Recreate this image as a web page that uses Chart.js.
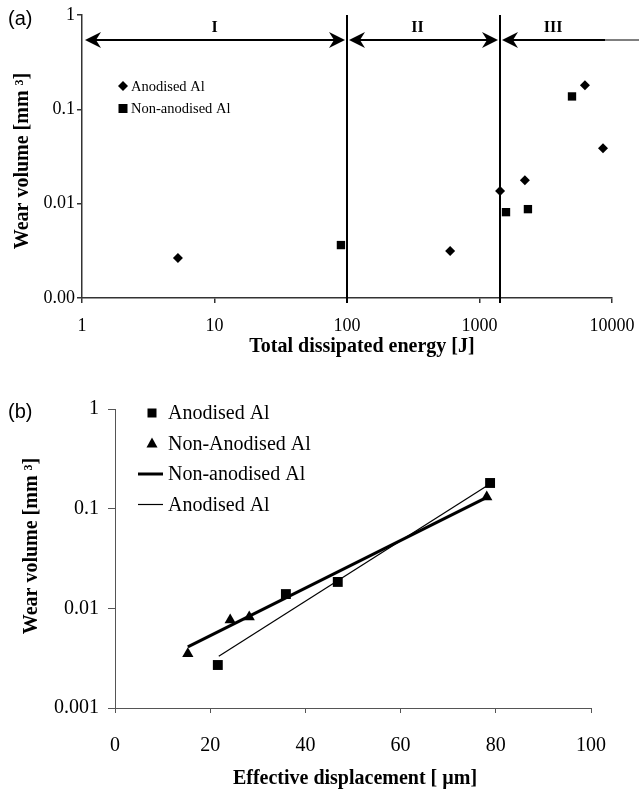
<!DOCTYPE html>
<html>
<head>
<meta charset="utf-8">
<script src="https://cdn.jsdelivr.net/npm/chart.js@4/dist/chart.umd.min.js"></script>
<style>
  body { margin: 0; background: #fff; width: 639px; height: 789px; position: relative; overflow: hidden; }
  canvas { position: absolute; left: 0; }
  #chartA { top: 0; }
  #chartB { top: 380px; }
  .tag { position: absolute; left: 8px; font: 20px "Liberation Sans", Arial, sans-serif; line-height: 20px; color: #000; }
</style>
</head>
<body>
<canvas id="chartA" width="639" height="380"></canvas>
<canvas id="chartB" width="639" height="409"></canvas>
<div class="tag" style="top:8px">(a)</div>
<div class="tag" style="top:401px">(b)</div>
<script>
// ---- (a) wear volume vs total dissipated energy ----
const energyAnod = [5.3, 600, 1430, 2200, 6250, 8550];
const volAnod    = [0.00265, 0.00314, 0.0136, 0.0177, 0.180, 0.0387];
const energyNon  = [90, 1585, 2320, 4990];
const volNon     = [0.00364, 0.00813, 0.00875, 0.137];
const regionEdges  = [1, 100, 1430, 10000];
const regionNames  = ['I', 'II', 'III'];
const regionLabelX = [10, 340, 3600];
const arrowLevel   = 0.543;
const xTicksA  = [1, 10, 100, 1000, 10000];
const yTicksA  = [0.001, 0.01, 0.1, 1];
const yLabelsA = ['0.00', '0.01', '0.1', '1'];

// ---- (b) wear volume vs effective displacement ----
const dispAnod  = [21.6, 35.9, 46.8, 78.8];
const volAnodB  = [0.0027, 0.0139, 0.0184, 0.181];
const dispNon   = [15.3, 24.2, 28.2, 78.1];
const volNonB   = [0.00350, 0.00765, 0.0082, 0.131];
const fitNonX   = [15.3, 78.1];
const fitNonY   = [0.0041, 0.130];
const fitAnodX  = [21.8, 79.0];
const fitAnodY  = [0.0033, 0.180];
const yTicksB   = [0.001, 0.01, 0.1, 1];
const yLabelsB  = ['0.001', '0.01', '0.1', '1'];

const serif = '"Liberation Serif", "Times New Roman", serif';
const pts = (xs, ys) => xs.map((v, i) => ({ x: v, y: ys[i] }));

// fixed axis box sizes, no extra label overhang padding
const fixBox = (w, h) => s => {
  if (w) s.width = w;
  if (h) s.height = h;
  s.paddingLeft = s.paddingRight = s.paddingTop = s.paddingBottom = 0;
};

function arrowHead(ctx, tx, ty, dir) {
  ctx.beginPath();
  ctx.moveTo(tx, ty);
  ctx.lineTo(tx - dir * 16, ty - 8);
  ctx.lineTo(tx - dir * 11, ty);
  ctx.lineTo(tx - dir * 16, ty + 8);
  ctx.closePath();
  ctx.fill();
}

function marker(ctx, style, x, y) {
  ctx.beginPath();
  if (style === 'rectRot') {
    ctx.moveTo(x, y - 5); ctx.lineTo(x + 5, y); ctx.lineTo(x, y + 5); ctx.lineTo(x - 5, y);
  } else if (style === 'triangle') {
    ctx.moveTo(x, y - 6); ctx.lineTo(x + 5.5, y + 4); ctx.lineTo(x - 5.5, y + 4);
  } else {
    ctx.rect(x - 4.5, y - 4.5, 9, 9);
  }
  ctx.closePath();
  ctx.fill();
}

// axis titles + legend drawn at fixed spots, texts from options / dataset labels
const decor = {
  id: 'decor',
  afterDraw(chart, args, o) {
    const ctx = chart.ctx;
    ctx.save();
    ctx.fillStyle = '#000';
    ctx.strokeStyle = '#000';
    ctx.font = 'bold 20px ' + serif;
    ctx.textAlign = 'center';
    ctx.textBaseline = 'alphabetic';
    ctx.fillText(o.xTitle, o.xTitleAt[0], o.xTitleAt[1]);
    ctx.save();
    ctx.translate(o.yTitleAt[0], o.yTitleAt[1]);
    ctx.rotate(-Math.PI / 2);
    ctx.fillText(o.yTitle, 0, 0);
    ctx.restore();

    ctx.font = o.legendFont + 'px ' + serif;
    ctx.textAlign = 'left';
    ctx.textBaseline = 'middle';
    o.legendItems.forEach((idx, row) => {
      const ds = chart.data.datasets[idx];
      const ly = o.legendAt[1] + row * o.legendGap;
      if (ds.showLine) {
        ctx.lineWidth = ds.borderWidth;
        ctx.beginPath();
        ctx.moveTo(o.legendAt[0] - 14, ly);
        ctx.lineTo(o.legendAt[0] + 11, ly);
        ctx.stroke();
      } else {
        marker(ctx, ds.pointStyle, o.legendAt[0], ly);
      }
      ctx.fillText(ds.label, o.legendAt[0] + o.textDx, ly + 1);
    });
    ctx.restore();
  }
};

const regions = {
  id: 'regions',
  afterDatasetsDraw(chart) {
    const { ctx, chartArea: a, scales: { x, y } } = chart;
    ctx.save();
    ctx.strokeStyle = '#000';
    ctx.fillStyle = '#000';
    ctx.lineWidth = 2;
    [regionEdges[1], regionEdges[2]].forEach(v => {
      const px = Math.round(x.getPixelForValue(v));
      ctx.beginPath(); ctx.moveTo(px, a.top); ctx.lineTo(px, a.bottom + 5); ctx.stroke();
    });
    const ay = Math.round(y.getPixelForValue(arrowLevel));
    const e = regionEdges.map(v => Math.round(x.getPixelForValue(v)));
    // I
    ctx.beginPath(); ctx.moveTo(e[0] + 8, ay); ctx.lineTo(e[1] - 8, ay); ctx.stroke();
    arrowHead(ctx, e[0] + 3, ay, -1); arrowHead(ctx, e[1] - 2, ay, 1);
    // II
    ctx.beginPath(); ctx.moveTo(e[1] + 8, ay); ctx.lineTo(e[2] - 8, ay); ctx.stroke();
    arrowHead(ctx, e[1] + 2, ay, -1); arrowHead(ctx, e[2] - 2, ay, 1);
    // III
    ctx.beginPath(); ctx.moveTo(e[2] + 8, ay); ctx.lineTo(e[3] - 7, ay); ctx.stroke();
    ctx.lineWidth = 1;
    ctx.beginPath(); ctx.moveTo(e[3] - 7, ay); ctx.lineTo(chart.width, ay); ctx.stroke();
    arrowHead(ctx, e[2] + 2, ay, -1);

    ctx.font = 'bold 16px ' + serif;
    ctx.textAlign = 'center';
    ctx.textBaseline = 'middle';
    regionNames.forEach((n, i) => ctx.fillText(n, x.getPixelForValue(regionLabelX[i]), ay - 12));
    ctx.restore();
  }
};

new Chart(document.getElementById('chartA'), {
  type: 'scatter',
  data: {
    datasets: [
      { label: 'Anodised Al', data: pts(energyAnod, volAnod), pointStyle: 'rectRot',
        pointRadius: 5, backgroundColor: '#000', borderWidth: 0 },
      { label: 'Non-anodised Al', data: pts(energyNon, volNon), pointStyle: 'rect',
        pointRadius: 5.9, backgroundColor: '#000', borderWidth: 0 }
    ]
  },
  options: {
    responsive: false,
    animation: false,
    events: [],
    layout: { padding: { top: 15, right: 27, left: 0, bottom: 0 } },
    plugins: {
      legend: { display: false },
      tooltip: { enabled: false },
      decor: {
        xTitle: 'Total dissipated energy [J]', xTitleAt: [362, 352],
        yTitle: 'Wear volume [mm \u00b3]', yTitleAt: [28, 161],
        legendItems: [0, 1], legendAt: [123, 86], legendGap: 22.5, legendFont: 14.5, textDx: 8
      }
    },
    scales: {
      x: {
        type: 'logarithmic', min: 1, max: 10000,
        afterBuildTicks: s => { s.ticks = xTicksA.map(v => ({ value: v })); },
        afterFit: fixBox(0, 82),
        ticks: { font: { family: serif, size: 18 }, color: '#000', padding: 12, maxRotation: 0, autoSkip: false,
                 callback: v => String(v) },
        grid: { drawOnChartArea: false, tickLength: 5, color: '#333', lineWidth: 1.5 },
        border: { color: '#333', width: 1.5 }
      },
      y: {
        type: 'logarithmic', min: 0.001, max: 1,
        afterBuildTicks: s => { s.ticks = yTicksA.map(v => ({ value: v })); },
        afterFit: fixBox(82, 0),
        ticks: { font: { family: serif, size: 18 }, color: '#000', padding: 2, autoSkip: false,
                 callback: (v, i) => yLabelsA[i] },
        grid: { drawOnChartArea: false, tickLength: 5, color: '#333', lineWidth: 1.5 },
        border: { color: '#333', width: 1.5 }
      }
    }
  },
  plugins: [regions, decor]
});

new Chart(document.getElementById('chartB'), {
  type: 'scatter',
  data: {
    datasets: [
      { label: 'Anodised Al', data: pts(dispAnod, volAnodB), pointStyle: 'rect',
        pointRadius: 7, backgroundColor: '#000', borderWidth: 0 },
      { label: 'Non-Anodised Al', data: pts(dispNon, volNonB), pointStyle: 'triangle',
        pointRadius: 6.5, backgroundColor: '#000', borderWidth: 0 },
      { label: 'Non-anodised Al', data: pts(fitNonX, fitNonY), showLine: true, pointRadius: 0,
        borderColor: '#000', borderWidth: 3 },
      { label: 'Anodised Al', data: pts(fitAnodX, fitAnodY), showLine: true, pointRadius: 0,
        borderColor: '#000', borderWidth: 1.2 }
    ]
  },
  options: {
    responsive: false,
    animation: false,
    events: [],
    layout: { padding: { top: 29, right: 48, left: 0, bottom: 0 } },
    plugins: {
      legend: { display: false },
      tooltip: { enabled: false },
      decor: {
        xTitle: 'Effective displacement [ \u00b5m]', xTitleAt: [355, 404],
        yTitle: 'Wear volume [mm \u00b3]', yTitleAt: [37, 166],
        legendItems: [0, 1, 2, 3], legendAt: [152, 33], legendGap: 30.5, legendFont: 20, textDx: 16
      }
    },
    scales: {
      x: {
        type: 'linear', min: 0, max: 100,
        afterFit: fixBox(0, 81),
        ticks: { stepSize: 20, font: { family: serif, size: 20 }, color: '#000', padding: 21, maxRotation: 0 },
        grid: { drawOnChartArea: false, tickLength: 5, color: '#555', lineWidth: 1 },
        border: { color: '#555', width: 1 }
      },
      y: {
        type: 'logarithmic', min: 0.001, max: 1,
        afterBuildTicks: s => { s.ticks = yTicksB.map(v => ({ value: v })); },
        afterFit: fixBox(115, 0),
        ticks: { font: { family: serif, size: 20 }, color: '#000', padding: 9, autoSkip: false,
                 callback: (v, i) => yLabelsB[i] },
        grid: { drawOnChartArea: false, tickLength: 7, color: '#555', lineWidth: 1 },
        border: { color: '#555', width: 1 }
      }
    }
  },
  plugins: [decor]
});
</script>
</body>
</html>
